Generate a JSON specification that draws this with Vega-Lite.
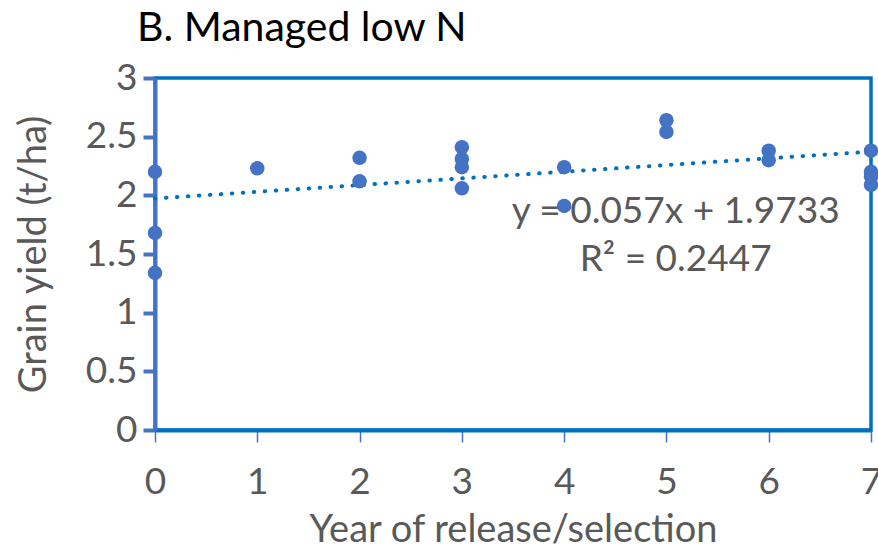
{
  "$schema": "https://vega.github.io/schema/vega-lite/v6.json",
  "width": 716,
  "height": 352,
  "autosize": {"type": "none"},
  "padding": {"left": 155, "top": 78, "right": 7, "bottom": 120},
  "background": "white",
  "config": {
    "font": "Lato",
    "view": {"stroke": "#0070C0", "strokeWidth": 3.5},
    "axis": {"grid": false, "labelFont": "Lato", "titleFont": "Lato", "labelColor": "#595959", "titleColor": "#595959", "labelFontSize": 37, "titleFontSize": 38, "titleFontWeight": "normal"}
  },
  "title": {
    "text": "B. Managed low N",
    "anchor": "start",
    "frame": "group",
    "dx": -18,
    "offset": 9,
    "fontSize": 41,
    "font": "Lato",
    "fontWeight": "normal",
    "color": "#000000"
  },
  "datasets": {
    "points": [
      {"year": 0, "yield": 2.20},
      {"year": 0, "yield": 1.68},
      {"year": 0, "yield": 1.34},
      {"year": 1, "yield": 2.23},
      {"year": 2, "yield": 2.32},
      {"year": 2, "yield": 2.12},
      {"year": 3, "yield": 2.41},
      {"year": 3, "yield": 2.31},
      {"year": 3, "yield": 2.24},
      {"year": 3, "yield": 2.06},
      {"year": 4, "yield": 2.24},
      {"year": 4, "yield": 1.91},
      {"year": 5, "yield": 2.64},
      {"year": 5, "yield": 2.54},
      {"year": 6, "yield": 2.38},
      {"year": 6, "yield": 2.30},
      {"year": 7, "yield": 2.38},
      {"year": 7, "yield": 2.20},
      {"year": 7, "yield": 2.16},
      {"year": 7, "yield": 2.09}
    ],
    "trend": [
      {"year": 0, "yield": 1.9733},
      {"year": 7, "yield": 2.3723}
    ],
    "labels": [
      {"year": 5.09, "yield": 1.86, "text": "y = 0.057x + 1.9733"},
      {"year": 5.09, "yield": 1.45, "text": "R² = 0.2447"}
    ]
  },
  "layer": [
    {
      "data": {"name": "trend"},
      "mark": {"type": "line", "color": "#0070C0", "strokeWidth": 4, "strokeDash": [0.5, 10.5], "strokeCap": "round"},
      "encoding": {
        "x": {"field": "year", "type": "quantitative"},
        "y": {"field": "yield", "type": "quantitative"}
      }
    },
    {
      "data": {"name": "labels"},
      "mark": {"type": "text", "fontSize": 37, "font": "Lato", "color": "#595959", "align": "center", "baseline": "middle"},
      "encoding": {
        "x": {"field": "year", "type": "quantitative"},
        "y": {"field": "yield", "type": "quantitative"},
        "text": {"field": "text"}
      }
    },
    {
      "data": {"name": "points"},
      "mark": {"type": "point", "filled": true, "opacity": 1, "color": "#4472C4", "size": 210},
      "encoding": {
        "x": {
          "field": "year", "type": "quantitative",
          "scale": {"domain": [0, 7], "nice": false},
          "axis": {"values": [0,1,2,3,4,5,6,7], "format": "d", "labelFlush": false, "labelOverlap": false, "title": "Year of release/selection", "domainColor": "#0070C0", "domainWidth": 4, "tickColor": "#4472C4", "tickWidth": 1.5, "tickSize": 12, "labelPadding": 22, "titlePadding": 11}
        },
        "y": {
          "field": "yield", "type": "quantitative",
          "scale": {"domain": [0, 3], "nice": false},
          "axis": {"values": [0,0.5,1,1.5,2,2.5,3], "format": "~g", "labelFlush": false, "title": "Grain yield (t/ha)", "domainColor": "#4472C4", "domainWidth": 4, "tickColor": "#4472C4", "tickWidth": 4, "tickSize": 12, "labelPadding": 6, "titlePadding": 32}
        }
      }
    }
  ]
}
